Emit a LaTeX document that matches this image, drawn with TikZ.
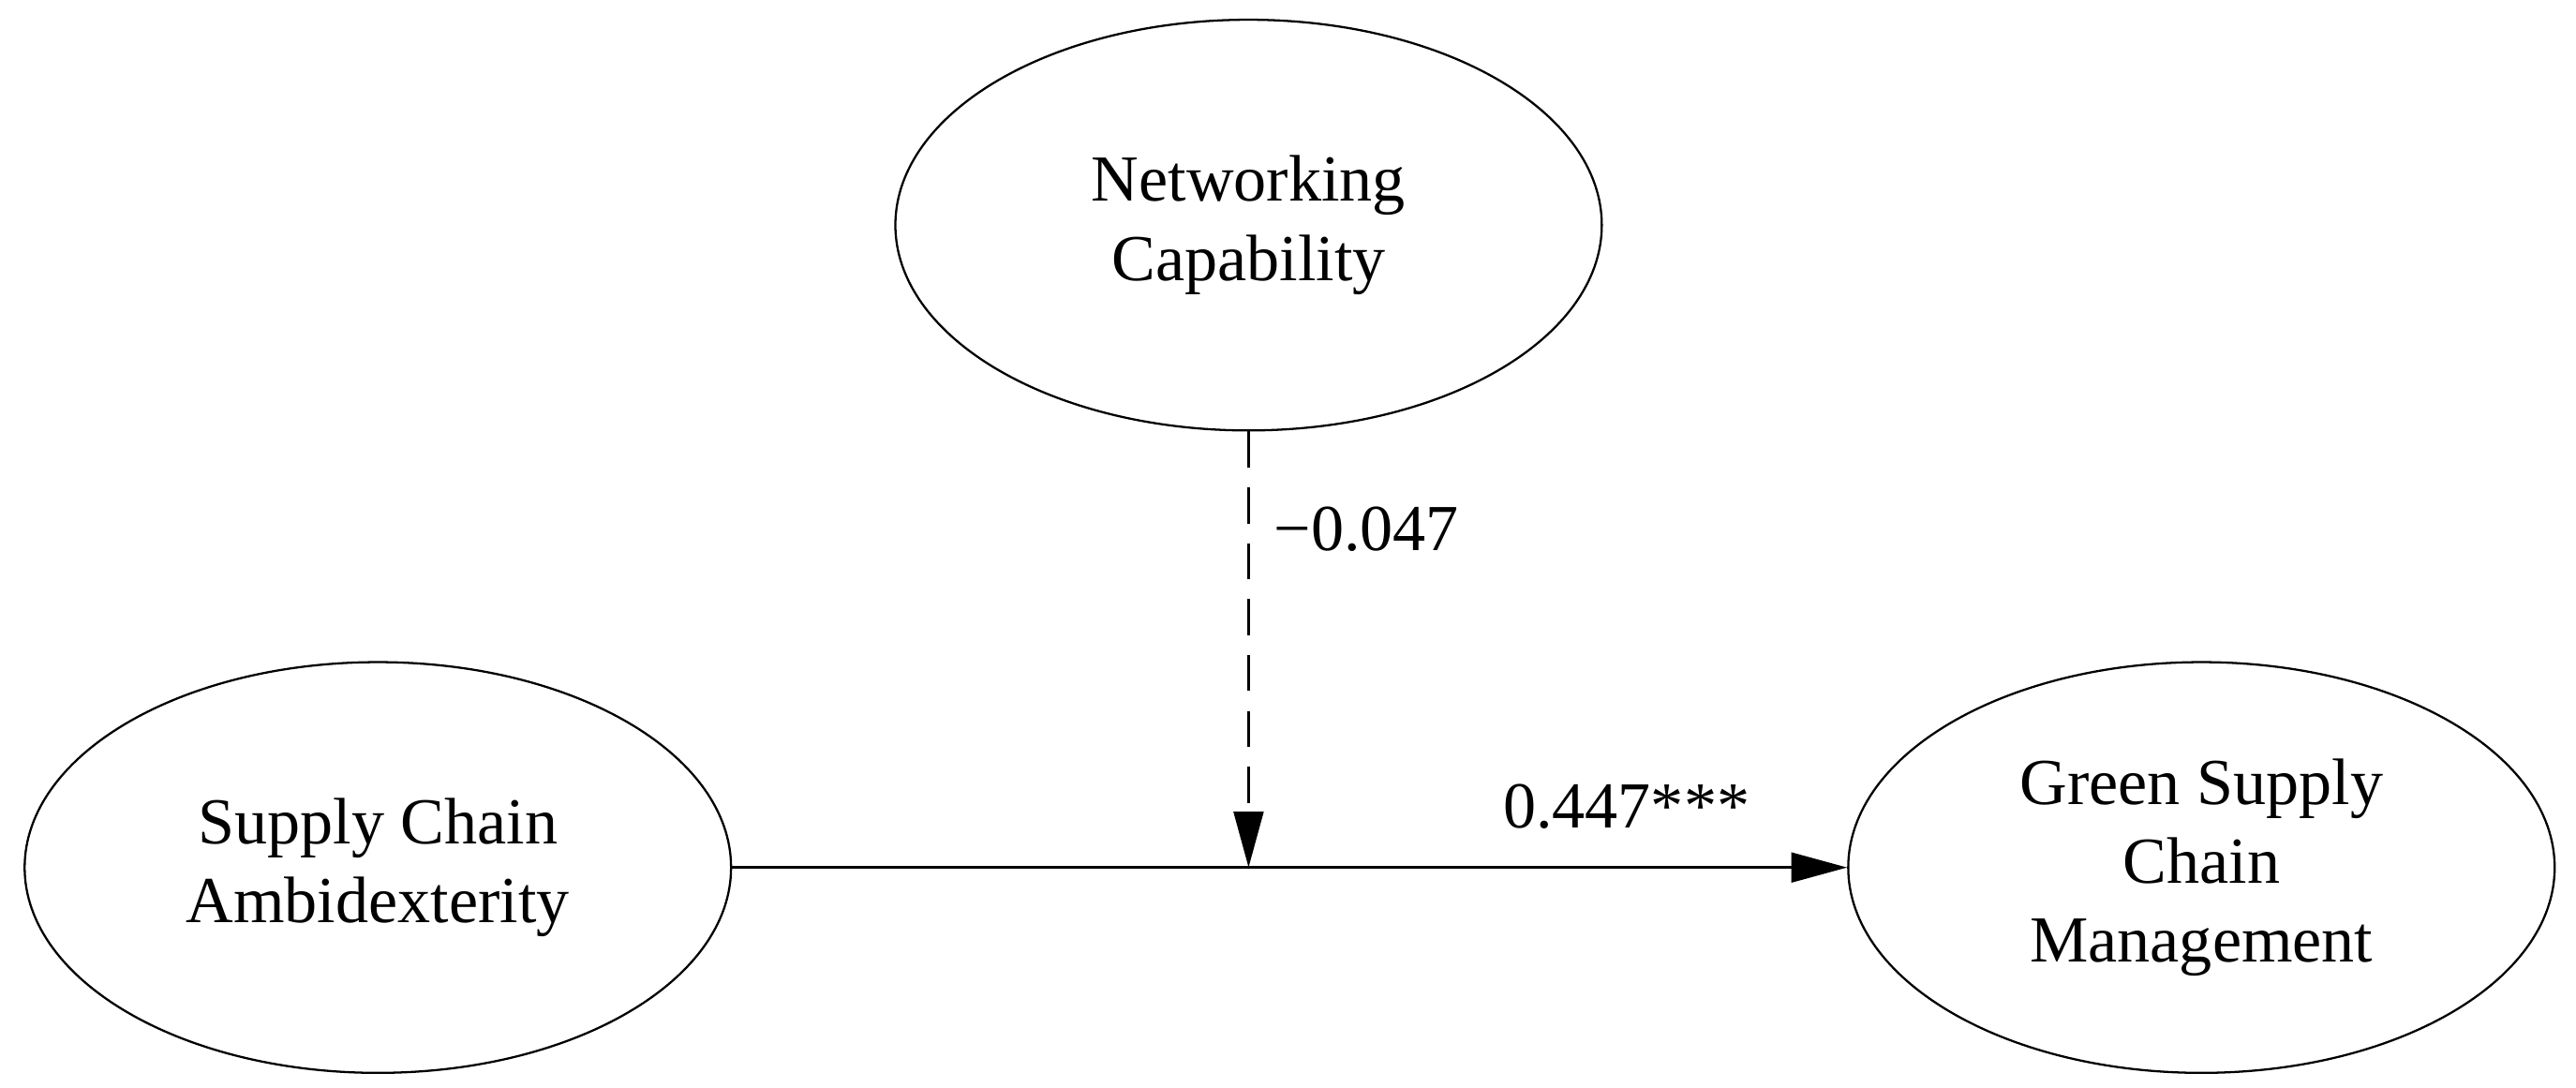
\documentclass[tikz,border=0pt]{standalone}
\usepackage{fontspec}
\setmainfont{Liberation Serif}
\usetikzlibrary{shapes.geometric,arrows.meta}
\begin{document}
\begin{tikzpicture}[x=1pt,y=-1pt,
  latent/.style={draw,ellipse,line width=1.3pt,minimum width=430pt,minimum height=250pt,align=center,font=\fontsize{40}{48}\selectfont},
  lbl/.style={font=\fontsize{40}{48}\selectfont},
  arr/.style={line width=2pt,-{Triangle[length=34pt,width=18pt]}}]
\useasboundingbox (0,0) rectangle (1568,662);
\node[latent] (nc) at (760,137) {Networking\\Capability};
\node[latent] (sca) at (230,528) {Supply Chain\\Ambidexterity};
\node[latent] (gscm) at (1340,528) {Green Supply\\Chain\\Management};
\draw[arr] (sca) -- (gscm);
\coordinate (m) at (760,528);
\draw[arr,dash pattern=on 22pt off 12pt] (nc) -- (m);
\node[lbl,anchor=west] at (772,322) {−0.047};
\node[lbl] at (990,491) {0.447***};
\end{tikzpicture}
\end{document}
